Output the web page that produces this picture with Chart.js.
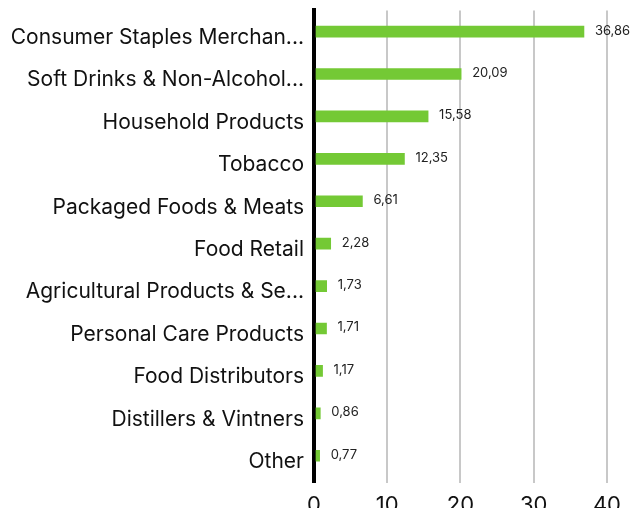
<!DOCTYPE html>
<html>
<head>
<meta charset="utf-8">
<script src="https://cdn.jsdelivr.net/npm/chart.js@4"></script>
<style>
  html, body { margin: 0; padding: 0; background: #fff; }
  #wrap { width: 630px; height: 508px; }
</style>
</head>
<body>
<div id="wrap"><canvas id="chart" width="630" height="508"></canvas></div>
<script>
const categories = [
    'Consumer Staples Merchan...',
    'Soft Drinks & Non-Alcohol...',
    'Household Products',
    'Tobacco',
    'Packaged Foods & Meats',
    'Food Retail',
    'Agricultural Products & Se...',
    'Personal Care Products',
    'Food Distributors',
    'Distillers & Vintners',
    'Other'
];
const weights = [36.86, 20.09, 15.58, 12.35, 6.61, 2.28, 1.73, 1.71, 1.17, 0.86, 0.77];
const xTicks = [0, 10, 20, 30, 40];

const fontFamily = 'Inter, "Open Sans", sans-serif';

// draw value labels at the end of each bar
const valueLabels = {
    id: 'valueLabels',
    afterDatasetsDraw(chart) {
        const ctx = chart.ctx;
        const meta = chart.getDatasetMeta(0);
        ctx.save();
        ctx.font = '13px ' + fontFamily;
        ctx.fillStyle = '#222';
        ctx.textAlign = 'left';
        ctx.textBaseline = 'middle';
        meta.data.forEach((bar, i) => {
            const txt = weights[i].toFixed(2).replace('.', ',');
            ctx.fillText(txt, bar.x + 11, bar.y - 1);
        });
        ctx.restore();
    }
};

const ctx = document.getElementById('chart').getContext('2d');
new Chart(ctx, {
    type: 'bar',
    data: {
        labels: categories,
        datasets: [{
            data: weights,
            backgroundColor: '#74C935',
            barThickness: 11,
            borderWidth: 0
        }]
    },
    options: {
        indexAxis: 'y',
        responsive: false,
        animation: false,
        layout: { padding: { top: 10, right: 22, left: 0, bottom: 0 } },
        plugins: {
            legend: { display: false },
            tooltip: { enabled: false }
        },
        scales: {
            x: {
                min: 0,
                max: 40,
                afterBuildTicks: s => { s.ticks = xTicks.map(v => ({ value: v })); },
                grid: {
                    color: c => (c.tick && c.tick.value === 0) ? '#000' : '#c8c8c8',
                    lineWidth: c => (c.tick && c.tick.value === 0) ? 4 : 2,
                    drawTicks: true,
                    tickLength: 6
                },
                border: { display: false },
                ticks: {
                    color: '#111',
                    padding: 9,
                    font: { family: fontFamily, size: 22 }
                },
                afterFit: s => { s.height = 31; }
            },
            y: {
                grid: { display: false },
                border: { display: true, color: '#000', width: 4 },
                ticks: {
                    color: '#111',
                    padding: 2,
                    labelOffset: 6,
                    font: { family: fontFamily, size: 21, lineHeight: 0.8 }
                },
                afterFit: s => { s.width = 314; }
            }
        }
    },
    plugins: [valueLabels]
});
</script>
</body>
</html>
